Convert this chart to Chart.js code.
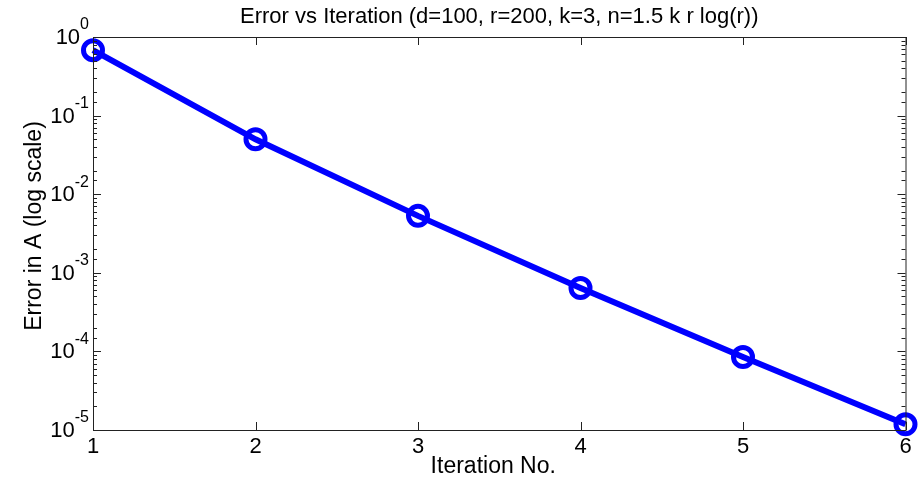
<!DOCTYPE html>
<html>
<head>
<meta charset="utf-8">
<script src="https://cdn.jsdelivr.net/npm/chart.js@4"></script>
<style>
  html, body { margin: 0; padding: 0; background: #fff; }
  #wrap { width: 920px; height: 482px; }
</style>
</head>
<body>
<div id="wrap"><canvas id="errChart"></canvas></div>
<script>
// error after each iteration
const iterations = [1, 2, 3, 4, 5, 6];
const errorA = [0.68, 0.050, 0.0053, 0.00064, 0.000085, 0.0000118];
const xTicks = [1, 2, 3, 4, 5, 6];
const yExponents = [0, -1, -2, -3, -4, -5];

const FONT = "Arial, 'Liberation Sans', sans-serif";

// matlab style box: inward ticks on all four sides, labels with superscripts
const matlabAxes = {
    id: "matlabAxes",
    afterDraw(chart) {
        const ctx = chart.ctx;
        const a = chart.chartArea;
        const xs = chart.scales.x, ys = chart.scales.y;
        ctx.save();
        ctx.strokeStyle = "#222";
        ctx.lineWidth = 1;
        ctx.strokeRect(a.left + 0.5, a.top + 0.5, a.right - a.left, a.bottom - a.top);

        ctx.beginPath();
        xTicks.forEach(v => {
            const px = Math.round(xs.getPixelForValue(v)) + 0.5;
            ctx.moveTo(px, a.bottom); ctx.lineTo(px, a.bottom - 8);
            ctx.moveTo(px, a.top); ctx.lineTo(px, a.top + 8);
        });
        ys.ticks.forEach(t => {
            const v = t.value;
            const e = Math.log10(v);
            const major = Math.abs(e - Math.round(e)) < 1e-9;
            const len = major ? 8 : 4;
            const py = Math.round(ys.getPixelForValue(v)) + 0.5;
            ctx.moveTo(a.left, py); ctx.lineTo(a.left + len, py);
            ctx.moveTo(a.right, py); ctx.lineTo(a.right - len, py);
        });
        ctx.stroke();

        ctx.fillStyle = "#000";
        // x tick labels
        ctx.font = "22px " + FONT;
        ctx.textAlign = "center";
        ctx.textBaseline = "middle";
        xTicks.forEach(v => {
            ctx.fillText(String(v), xs.getPixelForValue(v), a.bottom + 17);
        });

        // y tick labels, 10 with raised exponent
        yExponents.forEach(e => {
            const py = ys.getPixelForValue(Math.pow(10, e));
            ctx.font = "16px " + FONT;
            const expText = String(e);
            const ew = ctx.measureText(expText).width;
            const right = a.left - 4;
            ctx.textAlign = "left";
            ctx.textBaseline = "middle";
            ctx.fillText(expText, right - ew, py - 12);
            ctx.font = "22px " + FONT;
            ctx.textAlign = "right";
            ctx.fillText("10", right - ew, py + 1);
        });

        // title and axis labels
        ctx.font = "22px " + FONT;
        ctx.textAlign = "center";
        ctx.textBaseline = "middle";
        ctx.fillText("Error vs Iteration (d=100, r=200, k=3, n=1.5 k r log(r))", (a.left + a.right) / 2, 17);

        ctx.font = "23px " + FONT;
        ctx.fillText("Iteration No.", (a.left + a.right) / 2 - 6, 467);

        ctx.save();
        ctx.translate(35, 226);
        ctx.rotate(-Math.PI / 2);
        ctx.font = "23px " + FONT;
        ctx.fillText("Error in A (log scale)", 0, 0);
        ctx.restore();

        ctx.restore();
    }
};

new Chart(document.getElementById("errChart"), {
    type: "line",
    data: {
        labels: iterations,
        datasets: [{
            data: iterations.map((it, i) => ({ x: it, y: errorA[i] })),
            borderColor: "#0000ff",
            borderWidth: 6,
            pointRadius: 9.5,
            pointBorderWidth: 5,
            pointBackgroundColor: "rgba(0,0,0,0)",
            pointBorderColor: "#0000ff",
            tension: 0,
            clip: false
        }]
    },
    options: {
        responsive: true,
        maintainAspectRatio: false,
        animation: false,
        layout: { padding: { left: 93, right: 14, top: 37, bottom: 52 } },
        plugins: {
            legend: { display: false },
            tooltip: { enabled: false }
        },
        scales: {
            x: {
                type: "linear",
                min: 1,
                max: 6,
                ticks: { display: false },
                grid: { display: false, drawTicks: false, tickLength: 0 },
                border: { display: false }
            },
            y: {
                type: "logarithmic",
                min: 1e-5,
                max: 1,
                ticks: { display: false },
                grid: { display: false, drawTicks: false, tickLength: 0 },
                border: { display: false }
            }
        }
    },
    plugins: [matlabAxes]
});
</script>
</body>
</html>
